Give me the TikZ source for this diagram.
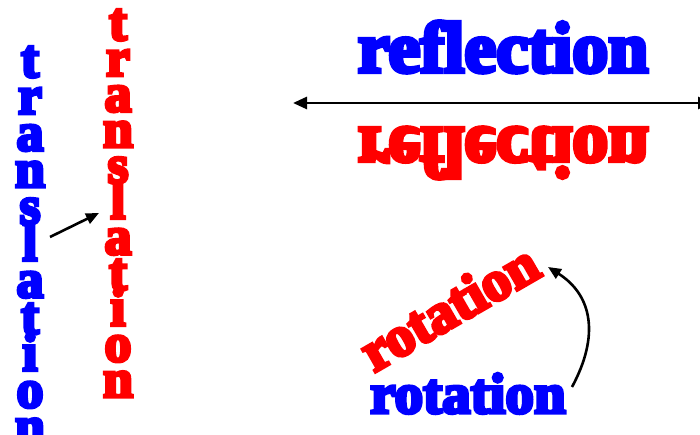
\documentclass[tikz,border=0pt]{standalone}
\usepackage{fontspec}
\usetikzlibrary{arrows.meta}
\newfontfamily\coop{Liberation Serif}[BoldFeatures={FakeBold=6}]
\definecolor{pblue}{RGB}{0,0,255}
\definecolor{pred}{RGB}{255,0,0}
\begin{document}
\begin{tikzpicture}[x=1pt,y=1pt,
  bigtxt/.style={font=\coop\bfseries\fontsize{72}{72}\selectfont, inner sep=0pt},
  midtxt/.style={font=\coop\bfseries\fontsize{57}{57}\selectfont, inner sep=0pt},
  lettxt/.style={font=\coop\bfseries\fontsize{54}{54}\selectfont, inner sep=0pt, anchor=base},
  conn/.style={line width=2.6pt, -{Triangle[length=13pt,width=11pt]}},
  mirror/.style={line width=2.8pt, {Triangle[length=14pt,width=12pt]}-{Triangle[length=14pt,width=12pt]}}]
\useasboundingbox (0,0) rectangle (700,435);
% translation
\foreach \l [count=\i] in {t,r,a,n,s,l,a,t,i,o,n}{
  \node[lettxt, text=pblue] (b\i) at (30,{435-77-(\i-1)*36.7}) {\l};
  \node[lettxt, text=pred] (r\i) at (118,{435-40-(\i-1)*35.7}) {\l};
}
\coordinate (tstart) at (50,198);
\coordinate (tend) at (99,222);
\draw[conn] (tstart) -- (tend);
% reflection
\node[bigtxt, text=pblue, anchor=base] (refl) at (503,363) {reflection};
\node[bigtxt, text=pred, anchor=base, yscale=-1, transform shape] (reflm) at (503,307) {reflection};
\coordinate (ml) at (293,332);
\coordinate (mr) at (712,332);
\draw[mirror] (ml) -- (mr);
% rotation
\node[midtxt, text=pblue, anchor=base] (rot) at (468,22) {rotation};
\node[midtxt, text=pred, rotate=30] (rotr) at (449,128) {rotation};
\coordinate (rs) at (572,48);
\coordinate (re) at (548,168);
\draw[conn] (rs) .. controls (600,100) and (592,140) .. (re);
\end{tikzpicture}
\end{document}
